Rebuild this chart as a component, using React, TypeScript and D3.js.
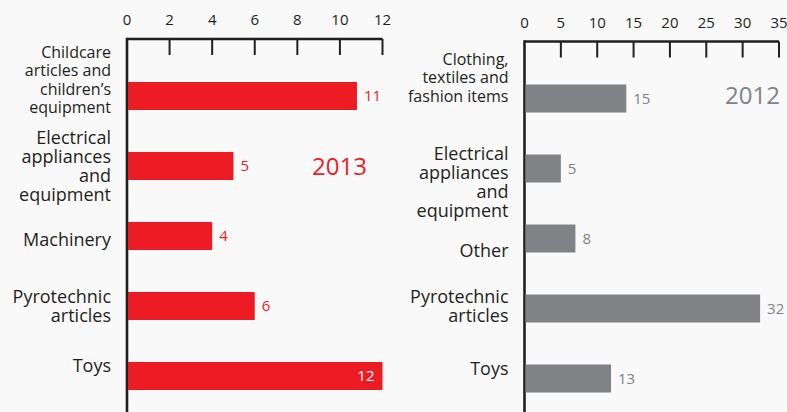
import React from 'react';
import * as d3 from 'd3';

// 2013 panel
const categories2013 = [
  ['Childcare', 'articles and', 'children\u2019s', 'equipment'],
  ['Electrical', 'appliances', 'and', 'equipment'],
  ['Machinery'],
  ['Pyrotechnic', 'articles'],
  ['Toys'],
];
const values2013 = [10.8, 5, 4, 6, 12];
const valueLabels2013 = ['11', '5', '4', '6', '12'];
const ticks2013 = [0, 2, 4, 6, 8, 10, 12];

// 2012 panel
const categories2012 = [
  ['Clothing,', 'textiles and', 'fashion items'],
  ['Electrical', 'appliances', 'and', 'equipment'],
  ['Other'],
  ['Pyrotechnic', 'articles'],
  ['Toys'],
];
const values2012 = [14, 5, 7, 32.4, 11.9];
const valueLabels2012 = ['15', '5', '8', '32', '13'];
const ticks2012 = [0, 5, 10, 15, 20, 25, 30, 35];

const W = 787;
const H = 412;
const FONT = '"Open Sans", "Noto Sans", sans-serif';
const INK = '#231f20';

type PanelProps = {
  cats: string[][];
  values: number[];
  labels: string[];
  ticks: number[];
  x0: number;
  x1: number;
  axisY: number;
  barColor: string;
  labelColor: string;
  year: string;
  yearX: number;
  yearY: number;
  nudge: number[]; // vertical tweak of the category labels
};

const Panel = ({ cats, values, labels, ticks, x0, x1, axisY, barColor, labelColor, year, yearX, yearY, nudge }: PanelProps) => {
  const max = ticks[ticks.length - 1];
  const x = d3.scaleLinear().domain([0, max]).range([x0, x1]);
  const keys = cats.map(c => c.join(' '));
  const y = d3.scaleBand()
    .domain(keys)
    .range([axisY + 22, axisY + 22 + 350])
    .paddingInner(0.6)
    .paddingOuter(0.3);

  return (
    <g>
      {/* top axis */}
      <line x1={x0} x2={x1} y1={axisY} y2={axisY} stroke={INK} strokeWidth={2.6} />
      <line x1={x0} x2={x0} y1={axisY - 1.3} y2={H} stroke={INK} strokeWidth={2.6} />
      {ticks.map(t => (
        <g key={t}>
          {t > 0 && (
            <line x1={x(t)} x2={x(t)} y1={axisY} y2={axisY + 16} stroke={INK} strokeWidth={2} />
          )}
          <text x={x(t)} y={axisY - 14} textAnchor="middle" fontSize={15} fill={INK}>{t}</text>
        </g>
      ))}

      {/* bars */}
      {cats.map((c, i) => {
        const k = keys[i];
        const top = y(k) ?? 0;
        const bw = y.bandwidth();
        const cy = top + bw / 2;
        const end = x(values[i]);
        const inside = values[i] >= max;
        const fs = i === 0 ? 16 : 18;
        const lh = i === 0 ? 18.5 : 19;
        const first = cy - ((c.length - 1) * lh) / 2 + fs * 0.35 - 3 + nudge[i];
        return (
          <g key={k}>
            <rect x={x0 + 1} y={top} width={end - x0 - 1} height={bw} fill={barColor} />
            <text
              x={inside ? end - 8 : end + 7}
              y={cy + 5}
              textAnchor={inside ? 'end' : 'start'}
              fontSize={15}
              fill={inside ? '#fff' : labelColor}
            >
              {labels[i]}
            </text>
            <text x={x0 - 16} y={first} textAnchor="end" fontSize={fs} fill={INK}>
              {c.map((line, j) => (
                <tspan key={j} x={x0 - 16} dy={j === 0 ? 0 : lh}>{line}</tspan>
              ))}
            </text>
          </g>
        );
      })}

      <text x={yearX} y={yearY} textAnchor="end" fontSize={24} fill={labelColor}>{year}</text>
    </g>
  );
};

export default function App() {
  return (
    <svg
      width={W}
      height={H}
      style={{ position: 'absolute', left: 0, top: 0, background: '#f9f9f9', fontFamily: FONT }}
    >
      <Panel
        cats={categories2013}
        values={values2013}
        labels={valueLabels2013}
        ticks={ticks2013}
        x0={127}
        x1={382.5}
        axisY={39}
        barColor="#ed1c24"
        labelColor="#ed1c24"
        year="2013"
        yearX={367}
        yearY={175}
        nudge={[-13, 3, 7, 3, -7]}
      />
      <Panel
        cats={categories2012}
        values={values2012}
        labels={valueLabels2012}
        ticks={ticks2012}
        x0={524.5}
        x1={779}
        axisY={41.5}
        barColor="#808285"
        labelColor="#808285"
        year="2012"
        yearX={780}
        yearY={104}
        nudge={[-18, 17, 15, 1, -7]}
      />
    </svg>
  );
}
